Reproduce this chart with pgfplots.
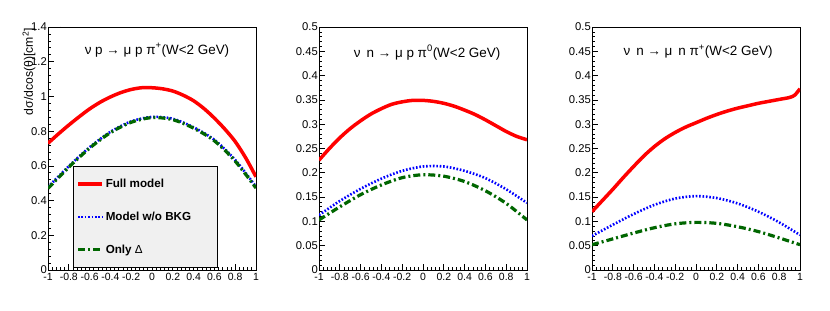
\documentclass[border=0pt]{standalone}
\usepackage{pgfplots}
\pgfplotsset{compat=1.18}
\usepackage{fontspec}
\setmainfont{Liberation Sans}
\definecolor{rootred}{RGB}{255,0,0}
\definecolor{rootblue}{RGB}{0,0,255}
\definecolor{rootgreen}{RGB}{0,102,0}
\definecolor{leggray}{RGB}{240,240,240}
\pgfplotsset{
 rootaxis/.style={
  scale only axis, width=208bp, height=243bp,
  xmin=-1, xmax=1, ymin=0,
  axis line style={line width=0.8bp},
  tick align=inside, xtick pos=bottom, ytick pos=left,
  xtick={-1,-0.8,-0.6,-0.4,-0.2,0,0.2,0.4,0.6,0.8,1},
  minor x tick num=4, minor y tick num=4,
  major tick length=6bp, minor tick length=3bp,
  tick style={black, line width=0.7bp},
  /pgf/number format/assume math mode=true,
  /pgf/number format/fixed, /pgf/number format/precision=2,
  yticklabel style={font=\fontsize{11.3}{12}\selectfont, inner sep=1bp},
  xticklabel style={font=\fontsize{10.5}{12}\selectfont, inner sep=1bp, yshift=-2bp},
  every axis plot/.append style={smooth},
  legend image code/.code={\draw[##1] (0bp,0bp) -- (24bp,0bp);},
 },
 full/.style={rootred, line width=3.5bp},
 nobkg/.style={rootblue, line width=2.6bp, dash pattern=on 1.6bp off 1.8bp},
 delta/.style={rootgreen, line width=3.2bp, dash pattern=on 7bp off 3bp on 2bp off 3bp},
}
\begin{document}
\begin{tikzpicture}
\path[use as bounding box] (0,0) rectangle (830bp,311bp);
% ---------- panel 1
\begin{axis}[rootaxis, at={(48bp,41bp)}, anchor=south west,
  ymax=1.4, ytick={0,0.2,0.4,0.6,0.8,1,1.2,1.4},
  legend style={at={(0.12,0.008)}, anchor=south west, fill=leggray, draw=black,
    line width=0.6bp, inner xsep=3bp, inner ysep=11bp, row sep=19bp,
    font=\fontsize{11.7}{12}\selectfont\bfseries, cells={anchor=west}},
  legend cell align=left]
\addplot[full] coordinates {(-1,0.73) (-0.9,0.784) (-0.8,0.835) (-0.7,0.883) (-0.6,0.928) (-0.5,0.966) (-0.4,0.997) (-0.3,1.022) (-0.2,1.040) (-0.1,1.05) (0,1.050) (0.1,1.044) (0.2,1.031) (0.3,1.007) (0.4,0.975) (0.5,0.93) (0.6,0.875) (0.7,0.812) (0.8,0.74) (0.9,0.647) (1,0.537)};
\addlegendentry{\makebox[107bp][l]{Full model}}
\addplot[nobkg] coordinates {(-1,0.478) (-0.8,0.598) (-0.6,0.707) (-0.4,0.796) (-0.2,0.856) (0,0.882) (0.2,0.871) (0.4,0.822) (0.6,0.75) (0.8,0.634) (1,0.48)};
\addlegendentry{\makebox[107bp][l]{Model w/o BKG}}
\addplot[delta] coordinates {(-1,0.47) (-0.8,0.592) (-0.6,0.702) (-0.4,0.791) (-0.2,0.851) (0,0.878) (0.2,0.866) (0.4,0.817) (0.6,0.744) (0.8,0.627) (1,0.472)};
\addlegendentry{\makebox[107bp][l]{Only {\mdseries Δ}}}
\node[font=\fontsize{13.5}{15}\selectfont] at (rel axis cs:0.524,0.905) {ν p → μ p π\textsuperscript{+}(W<2 GeV)};
\node[anchor=south west, inner sep=0, font=\fontsize{9}{10}\selectfont] at (rel axis cs:0,1) {×10\textsuperscript{-39}};
\node[anchor=east, inner sep=0, font=\fontsize{12.5}{13}\selectfont] at (rel axis cs:1,0) [yshift=-24bp] {cos(θ)};
\end{axis}
\node[rotate=90, anchor=east, inner sep=0, font=\fontsize{12.3}{13}\selectfont] at (29bp,283bp) {dσ/dcos(θ)[cm\textsuperscript{2}]};
% ---------- panel 2
\begin{axis}[rootaxis, at={(319bp,41bp)}, anchor=south west,
  ymax=0.5, ytick={0,0.05,0.1,0.15,0.2,0.25,0.3,0.35,0.4,0.45,0.5}]
\addplot[full] coordinates {(-1,0.226) (-0.9,0.25) (-0.8,0.272) (-0.7,0.291) (-0.6,0.307) (-0.5,0.321) (-0.4,0.332) (-0.3,0.341) (-0.2,0.346) (-0.1,0.349) (0,0.349) (0.1,0.347) (0.2,0.343) (0.3,0.337) (0.4,0.329) (0.5,0.32) (0.6,0.309) (0.7,0.297) (0.8,0.285) (0.9,0.275) (1,0.268)};
\addplot[nobkg] coordinates {(-1,0.113) (-0.8,0.142) (-0.6,0.167) (-0.4,0.188) (-0.2,0.204) (0,0.213) (0.2,0.213) (0.4,0.204) (0.6,0.189) (0.8,0.166) (1,0.138)};
\addplot[delta] coordinates {(-1,0.103) (-0.8,0.13) (-0.6,0.155) (-0.4,0.175) (-0.2,0.19) (0,0.196) (0.2,0.193) (0.4,0.182) (0.6,0.163) (0.8,0.137) (1,0.103)};
\node[font=\fontsize{13.5}{15}\selectfont] at (rel axis cs:0.52,0.895) {ν \,n → μ p π\textsuperscript{0}(W<2 GeV)};
\node[anchor=south west, inner sep=0, font=\fontsize{9}{10}\selectfont] at (rel axis cs:0,1) {×10\textsuperscript{-39}};
\node[anchor=east, inner sep=0, font=\fontsize{12.5}{13}\selectfont] at (rel axis cs:1,0) [yshift=-24bp] {cos(θ)};
\end{axis}
% ---------- panel 3
\begin{axis}[rootaxis, at={(592bp,41bp)}, anchor=south west,
  ymax=0.5, ytick={0,0.05,0.1,0.15,0.2,0.25,0.3,0.35,0.4,0.45,0.5}]
\addplot[full] coordinates {(-1,0.12) (-0.9,0.143) (-0.8,0.166) (-0.7,0.19) (-0.6,0.213) (-0.5,0.235) (-0.4,0.254) (-0.3,0.27) (-0.2,0.283) (-0.1,0.294) (0,0.303) (0.1,0.312) (0.2,0.32) (0.3,0.327) (0.4,0.333) (0.5,0.338) (0.6,0.343) (0.7,0.347) (0.8,0.351) (0.9,0.355) (0.95,0.36) (1,0.373)};
\addplot[nobkg] coordinates {(-1,0.07) (-0.8,0.093) (-0.6,0.115) (-0.4,0.134) (-0.2,0.147) (0,0.152) (0.2,0.148) (0.4,0.137) (0.6,0.12) (0.8,0.098) (1,0.072)};
\addplot[delta] coordinates {(-1,0.052) (-0.8,0.064) (-0.6,0.076) (-0.4,0.087) (-0.2,0.095) (0,0.098) (0.2,0.096) (0.4,0.089) (0.6,0.079) (0.8,0.066) (1,0.052)};
\node[font=\fontsize{13.5}{15}\selectfont] at (rel axis cs:0.51,0.897) {ν \,n → μ \,n π\textsuperscript{+}(W<2 GeV)};
\node[anchor=south west, inner sep=0, font=\fontsize{9}{10}\selectfont] at (rel axis cs:0,1) {×10\textsuperscript{-39}};
\node[anchor=east, inner sep=0, font=\fontsize{12.5}{13}\selectfont] at (rel axis cs:1,0) [yshift=-24bp] {cos(θ)};
\end{axis}
\end{tikzpicture}
\end{document}
